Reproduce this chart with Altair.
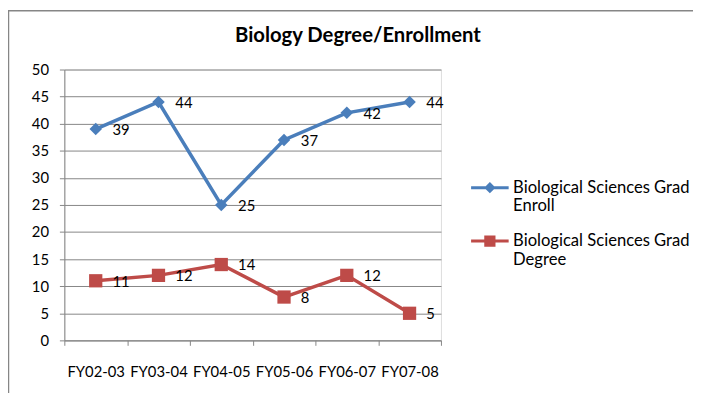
import altair as alt
import pandas as pd

years = ["FY02-03", "FY03-04", "FY04-05", "FY05-06", "FY06-07", "FY07-08"]
enroll = [39, 44, 25, 37, 42, 44]
degree = [11, 12, 14, 8, 12, 5]
series_names = ["Biological Sciences Grad Enroll", "Biological Sciences Grad Degree"]
colors = ["#4A7EBB", "#BE4B48"]
plot_shapes = ["diamond", "square"]
legend_shapes = [
    "M-1,0H1M0,-0.19L0.19,0L0,0.19L-0.19,0ZM0,-0.1V0.1",
    "M-1,0H1M-0.22,-0.22H0.22V0.22H-0.22ZM-0.22,-0.1H0.22M-0.22,0.1H0.22",
]
y_ticks = [0, 5, 10, 15, 20, 25, 30, 35, 40, 45, 50]
title_text = ["Biology Degree/Enrollment"]

rows = []
for s, vals in zip(series_names, [enroll, degree]):
    for yr, v in zip(years, vals):
        rows.append({"year": yr, "value": v, "series": s})
df = pd.DataFrame(rows)

FONT = "Lato"
GRAY = "#868686"

x_enc = alt.X(
    "year:N",
    sort=years,
    scale=alt.Scale(type="band", paddingInner=0, paddingOuter=0),
    axis=alt.Axis(
        title=None, tickBand="extent", labelAngle=0, grid=False,
        domainColor=GRAY, tickColor=GRAY, tickSize=5,
        labelFontSize=15, labelColor="#000000", labelPadding=20, labelFont=FONT,
    ),
)
y_enc = alt.Y(
    "value:Q",
    scale=alt.Scale(domain=[0, 50], nice=False),
    axis=alt.Axis(
        title=None, values=y_ticks, grid=True, gridColor=GRAY, gridWidth=1,
        domainColor=GRAY, tickColor=GRAY, tickSize=5,
        labelFontSize=15, labelColor="#000000", labelPadding=11, labelFont=FONT,
    ),
)
color_scale = alt.Scale(domain=series_names, range=colors)

base = alt.Chart(df)

lines = base.mark_line(strokeWidth=3.5).encode(
    x=x_enc, y=y_enc,
    color=alt.Color("series:N", scale=color_scale, legend=None),
    detail="series:N",
)

points = base.mark_point(filled=True, opacity=1).encode(
    x=x_enc, y=y_enc,
    color=alt.Color("series:N", scale=color_scale, legend=None),
    shape=alt.Shape("series:N", scale=alt.Scale(domain=series_names, range=plot_shapes), legend=None),
    size=alt.Size("series:N", scale=alt.Scale(domain=series_names, range=[160, 180]), legend=None),
)

labels = base.mark_text(align="left", baseline="middle", dx=17, dy=1, fontSize=15, font=FONT, color="#000000").encode(
    x=x_enc, y=y_enc, text="value:Q",
)

leg = alt.Legend(
    title=None, orient="none", legendX=410, legendY=99,
    symbolSize=1444, symbolStrokeWidth=3, symbolOpacity=1, labelOffset=3,
    labelFontSize=16.8, labelFont=FONT, labelColor="#000000", labelLimit=400,
    labelExpr="[slice(datum.label, 0, 24), slice(datum.label, 25)]",
    rowPadding=5, padding=0,
)

legend_layer = alt.Chart(df).transform_filter("false").mark_point(filled=False, opacity=1).encode(
    color=alt.Color("series:N", scale=alt.Scale(domain=series_names, range=colors), legend=leg),
    shape=alt.Shape("series:N", scale=alt.Scale(domain=series_names, range=legend_shapes), legend=leg),
)

border = alt.Chart(pd.DataFrame({"d": [0]})).mark_rect(fill="transparent", stroke=GRAY, strokeWidth=1.5).encode(
    x=alt.value(-56.5), x2=alt.value(700), y=alt.value(-59.5), y2=alt.value(400),
)

title = alt.Chart(pd.DataFrame({"t": title_text})).mark_text(
    fontSize=20.5, fontWeight="bold", font=FONT, color="#000000", align="center", baseline="alphabetic",
).encode(text="t:N", x=alt.value(297), y=alt.value(-28))

chart = alt.layer(border, title, lines, points, labels, legend_layer).resolve_scale(
    shape="independent", color="independent"
).properties(
    width=381, height=274,
    autosize=alt.AutoSizeParams(type="none"),
    padding={"left": 57, "top": 60, "right": 255, "bottom": 51},
).configure_view(stroke=None).configure(font=FONT)

chart.save("out.html", embed_options={"renderer": "svg", "actions": False})
